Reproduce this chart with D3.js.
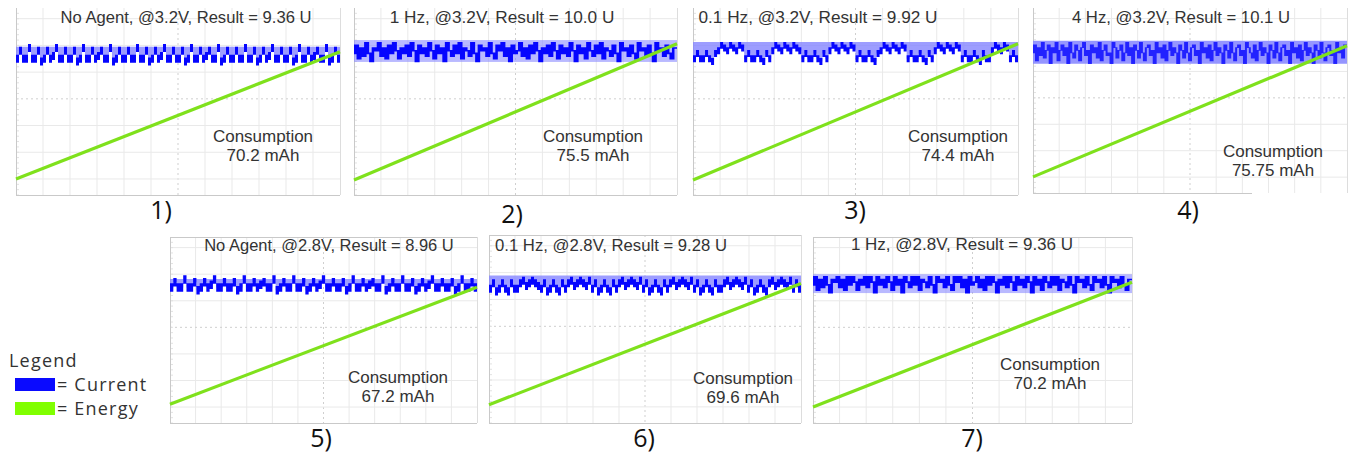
<!DOCTYPE html>
<html><head><meta charset="utf-8">
<script src="https://cdn.jsdelivr.net/npm/d3@7"></script>
<style>html,body{margin:0;padding:0;background:#fff;}svg{display:block;}</style>
</head><body>
<script>
// ---------------- DATA ----------------
const titles = [
  "No Agent, @3.2V, Result = 9.36 U",
  "1 Hz, @3.2V, Result = 10.0 U",
  "0.1 Hz, @3.2V, Result = 9.92 U",
  "4 Hz, @3.2V, Result = 10.1 U",
  "No Agent, @2.8V, Result = 8.96 U",
  "0.1 Hz, @2.8V, Result = 9.28 U",
  "1 Hz, @2.8V, Result = 9.36 U"
];
const panelLabels = ["1)", "2)", "3)", "4)", "5)", "6)", "7)"];
const consumption = ["70.2 mAh", "75.5 mAh", "74.4 mAh", "75.75 mAh", "67.2 mAh", "69.6 mAh", "70.2 mAh"];
// energy trace (screen units 0..70) at start and end of the record
const energyStart = [6.0, 5.6, 5.6, 6.1, 7.1, 6.8, 6.0];
const energyEnd   = [53.6, 56.6, 56.6, 55.7, 51.1, 51.9, 53.0];
// upper / lower edge of the current envelope (screen units)
const envelopeTop    = [55.5, 58.0, 57.3, 57.6, 54.2, 54.9, 56.0];
const envelopeBottom = [49.0, 49.8, 49.5, 48.9, 48.5, 48.0, 48.9];
// horizontal / vertical grid positions (screen units / divisions)
const gridY = [6, 16, 26, 36, 46, 56, 66];
const gridX = [1,2,3,4,5,6,7,8,9,10,11];
// current traces (screen units 0..70)
const current1 = [51,54,51, 51,55,51, 51,54,50, 51,54,51, 52,55,51, 51,54,51, 51,54,50, 51,55,51, 51,54,51, 52,54,51, 51,55,50, 51,54,51,
                  51,54,51, 51,55,51, 51,54,50, 51,54,51, 52,55,51, 51,54,51, 51,54,50, 51,55,51, 51,54,51, 52,54,51, 51,55,50, 51,54,51,
                  51,54,51, 51,55,51, 51,54,50, 51,54,51, 52,55,51, 51,54,51, 51,54,50, 51,55,51, 51,54,51, 52,54,51, 51,55,50, 51,54,51];
const current2 = [53,56,51,55,52,57,53,50,55,54,57,52,55,51,56,53,57,54,51,55,53,56,52,57,54,50,56,53,55,52,57,54,51,56,53,55,50,57,54,52,56,53,57,51,55,54,52,57,53,50,56,54,55,52,57,53,51,56,54,57,52,55,50,56,53,54,57,52,55,51,56,53,57,54,50,55,53,56,52,57,54,51,56,53,55,52,57,54,50,56,53,55,51,57,54,52,56,53,57,51,55,54,52,56,53,50,57,54,55,52,56,53,51,57,54,55,52,56,53,50,57,54,55,52,56,53,51,55];
const current3 = [51,53,51,51,53,51,50,53,
                  54,56,55,54,56,55,54,56,55,
                  51,53,51,51,53,51,50,53,51,
                  54,56,55,54,56,55,54,56,55,54,
                  51,53,51,51,53,51,50,53,51,
                  54,56,55,54,56,55,54,56,55,
                  51,53,51,51,53,51,50,53,
                  54,56,55,54,56,55,54,56,55,
                  51,53,51,51,53,51,50,53,51,
                  54,56,55,54,56,55,54,56,55,
                  51,53,51,51,53,51,50,53,51,51,
                  54,56,55,54,56,55,
                  51,53,51];
const current4 = [53,56,50,55,52,57,51,54,56,49,55,53,57,50,54,56,52,55,49,57,53,51,56,54,50,55,57,52,54,49,56,53,55,51,57,50,54,56,52,53,49,57,55,51,54,56,50,53,57,52,55,49,56,54,51,57,53,50,55,56,52,54,49,57,53,55,51,56,50,54,57,52,55,53,49,56,54,51,57,53,50,55,56,52,54,49,57,53,55,51,56,50,54,57,52,55,53,49,56,54,51,57,53,50,55,56,52,54,49,57,55,53,51,56,50,54,57,52,55,53,49,56,54,51,57,53,50,55,56,52,54,49,57,53,55,51,56,50,54,57,52,55,53,49,56,54,51,57,53,50,55,56,52,54,49,57,53,55,51,56];
const current5 = [51,53,51, 51,54,51, 51,53,50, 51,53,51, 52,54,51, 51,53,51, 51,53,50, 51,54,51, 51,53,51, 52,53,51, 51,54,50,
                  51,53,51, 51,54,51, 51,53,50, 51,53,51, 52,54,51, 51,53,51, 51,53,50, 51,54,51, 51,53,51, 52,53,51,
                  51,54,50, 51,53,51, 51,54,51, 51,53,50, 51,53,51, 52,54,51, 51,53,51, 51,53,50, 51,54,51, 51,53,51];
const current6 = [50,52,49,50,52,50,49,52,50,50,
                  52,53,51,52,53,52,51,
                  50,52,49,50,52,50,49,52,50,
                  52,53,51,52,53,52,51,53,
                  50,52,49,50,52,50,49,52,50,
                  52,53,51,52,53,52,51,53,
                  50,52,49,50,52,50,49,52,50,
                  52,53,51,52,53,52,51,53,
                  50,52,49,50,52,50,49,52,50,50,
                  52,53,51,52,53,52,51,53,
                  50,52,49,50,52,50,49,
                  52,53,51,52,53,52,51,53,
                  50,52,50];
const current7 = [52,55,50,54,51,55,52,49,54,53,55,51,54,50,55,52,55,53,50,54,52,55,51,55,53,49,55,52,54,51,55,53,50,55,52,54,49,55,53,51,55,52,55,50,54,53,51,55,52,49,55,53,54,51,55,52,50,55,53,55,51,54,49,55,52,53,55,51,54,50,55,52,55,53,49,54,52,55,51,55,53,50,55,52,54,51,55,53,49,55,52,54,50,55,53,51,55,52,55,50,54,53,51,55,52,49,55,53,54,51,55,52,50,55,53,54,51,55,52,49,55,53,54,51,55,52,50,54];
const currents = [current1, current2, current3, current4, current5, current6, current7];
const legendItems = ["= Current", "= Energy"];

// ---------------- LAYOUT ----------------
const layout = [
  {x0:16,  x1:340,  y0:8,   y1:195, top:false, bEnd:340,  tx:186,  ty:23,  tf:16.6, cx:263,  cy:142, lx:161, ly:219, mode:"step", core:3.0},
  {x0:354, x1:677,  y0:8,   y1:195, top:false, bEnd:677,  tx:502,  ty:23,  tf:17.2, cx:593,  cy:142, lx:512, ly:223, mode:"zig",  core:0.6, op:1.0, lop:0.6},
  {x0:693, x1:1018, y0:8,   y1:195, top:false, bEnd:1018, tx:818,  ty:23,  tf:17.2, cx:958,  cy:142, lx:855, ly:219, mode:"step", core:2.6},
  {x0:1033,x1:1347, y0:8,   y1:193, top:false, bEnd:1252, tx:1181, ty:23,  tf:16.7, cx:1273, cy:157, lx:1188,ly:219, mode:"zig",  core:0.3, op:0.8, lop:0.9},
  {x0:170, x1:477,  y0:237, y1:423, top:true,  bEnd:477,  tx:329,  ty:251, tf:16.5, cx:398,  cy:383, lx:321, ly:447, mode:"step", core:3.2},
  {x0:489, x1:801,  y0:235, y1:423, top:true,  bEnd:801,  tx:611,  ty:251, tf:16.7, cx:743,  cy:384, lx:644, ly:447, mode:"step", core:3.0},
  {x0:813, x1:1132, y0:237, y1:423, top:true,  bEnd:1132, tx:962,  ty:250, tf:17.0, cx:1050, cy:370, lx:972, ly:447, mode:"zig",  core:0.6, op:1.0, lop:0.6}
];

const svg = d3.select("body").append("svg").attr("width",1349).attr("height",454);
const sans = "'Liberation Sans', Arial, sans-serif";

layout.forEach((L, i) => {
  const g = svg.append("g");
  const x = d3.scaleLinear().domain([0,12]).range([L.x0, L.x1]);
  const y = d3.scaleLinear().domain([0,70]).range([L.y1, L.y0]);

  // grid
  g.selectAll("line.gx").data(gridX).join("line")
    .attr("x1", d=>x(d)).attr("x2", d=>x(d)).attr("y1", L.y0).attr("y2", L.y1)
    .attr("stroke", d=> d===6 ? "#cfcfcf" : "#e9e9e9").attr("stroke-width",1)
    .attr("stroke-dasharray", d=> d===6 ? "2,3" : null);
  g.selectAll("line.gy").data(gridY).join("line")
    .attr("y1", d=>y(d)).attr("y2", d=>y(d)).attr("x1", L.x0).attr("x2", L.x1)
    .attr("stroke", d=> d===36 ? "#cfcfcf" : "#e9e9e9").attr("stroke-width",1)
    .attr("stroke-dasharray", d=> d===36 ? "2,3" : null);
  const minor = d3.range(0, 70, 2);
  g.selectAll("line.mt").data(minor).join("line")
    .attr("x1", L.x0).attr("x2", L.x0+3).attr("y1", d=>y(d)).attr("y2", d=>y(d))
    .attr("stroke","#e2e2e2");

  // frame
  const fr = g.append("g").attr("stroke","#c9c9c9").attr("stroke-width",1).attr("shape-rendering","crispEdges");
  fr.append("line").attr("x1",L.x0).attr("x2",L.x0).attr("y1",L.y0).attr("y2",L.y1);
  fr.append("line").attr("x1",L.x1).attr("x2",L.x1).attr("y1",L.y0).attr("y2",L.y1).attr("stroke","#dddddd");
  fr.append("line").attr("x1",L.x0).attr("x2",L.bEnd).attr("y1",L.y1).attr("y2",L.y1);
  if (L.top) fr.append("line").attr("x1",L.x0).attr("x2",L.x1).attr("y1",L.y0).attr("y2",L.y0);

  // current
  const data = currents[i];
  const xi = d3.scaleLinear().domain([0, data.length]).range([0,12]);
  const ext = data.concat([data[data.length-1]]);
  if (L.mode === "step") {
    const light = d3.area().curve(d3.curveStepAfter)
      .x((d,j)=>x(xi(j))).y0(d=>y(d)).y1(y(envelopeTop[i]));
    const core = d3.area().curve(d3.curveStepAfter)
      .x((d,j)=>x(xi(j))).y0(d=>y(d - L.core/2)).y1(d=>y(d + L.core/2));
    g.append("path").attr("d", light(ext)).attr("fill","#8484ff").attr("fill-opacity",0.8);
    g.append("path").attr("d", core(ext)).attr("fill","#0505ff");
  } else {
    g.append("rect").attr("x",x(0)).attr("width",x(12)-x(0))
      .attr("y",y(envelopeTop[i])).attr("height",y(envelopeBottom[i])-y(envelopeTop[i]))
      .attr("fill","#8a8aff").attr("fill-opacity",L.lop);
    // each time bucket spans from one sample to the next (min/max)
    const nxt = j => ext[Math.min(j+1, ext.length-1)];
    const band = d3.area().curve(d3.curveStepAfter)
      .x((d,j)=>x(xi(j)))
      .y0((d,j)=>y(Math.min(d, nxt(j)) - L.core/2))
      .y1((d,j)=>y(Math.max(d, nxt(j)) + L.core/2));
    g.append("path").attr("d", band(ext)).attr("fill","#0505ff").attr("fill-opacity",L.op);
  }

  // energy
  const e = [[0, energyStart[i]], [12, energyEnd[i]]];
  g.append("path").attr("d", d3.line().x(d=>x(d[0])).y(d=>y(d[1]))(e))
    .attr("fill","none").attr("stroke","#7fe11c").attr("stroke-width",3.2);

  // texts
  g.append("text").attr("x",L.tx).attr("y",L.ty).attr("text-anchor","middle")
    .attr("font-family",sans).attr("font-size",L.tf).attr("fill","#333").text(titles[i]);
  g.append("text").attr("x",L.cx).attr("y",L.cy).attr("text-anchor","middle")
    .attr("font-family",sans).attr("font-size",17).attr("fill","#333").text("Consumption");
  g.append("text").attr("x",L.cx).attr("y",L.cy+19).attr("text-anchor","middle")
    .attr("font-family",sans).attr("font-size",17).attr("fill","#333").text(consumption[i]);
  svg.append("text").attr("x",L.lx).attr("y",L.ly).attr("text-anchor","middle")
    .attr("font-family","'Open Sans', 'DejaVu Sans', sans-serif").attr("font-size",25).attr("fill","#111").text(panelLabels[i]);
});

// legend
const lg = svg.append("g");
lg.append("text").attr("x",9).attr("y",367).attr("font-family","'Open Sans', sans-serif")
  .attr("font-size",18).attr("letter-spacing",1.2).attr("fill","#333").text("Legend");
const legColors = ["#0a0aff", "#80ff00"];
lg.selectAll("rect").data(legendItems).join("rect")
  .attr("x",15).attr("y",(d,k)=>378 + k*24).attr("width",40).attr("height",13)
  .attr("fill",(d,k)=>legColors[k]);
lg.selectAll("text.li").data(legendItems).join("text").attr("class","li")
  .attr("x",57).attr("y",(d,k)=>391 + k*24).attr("font-family","'Open Sans', sans-serif")
  .attr("font-size",18).attr("letter-spacing",1.2).attr("fill","#333").text(d=>d);
</script>
</body></html>
